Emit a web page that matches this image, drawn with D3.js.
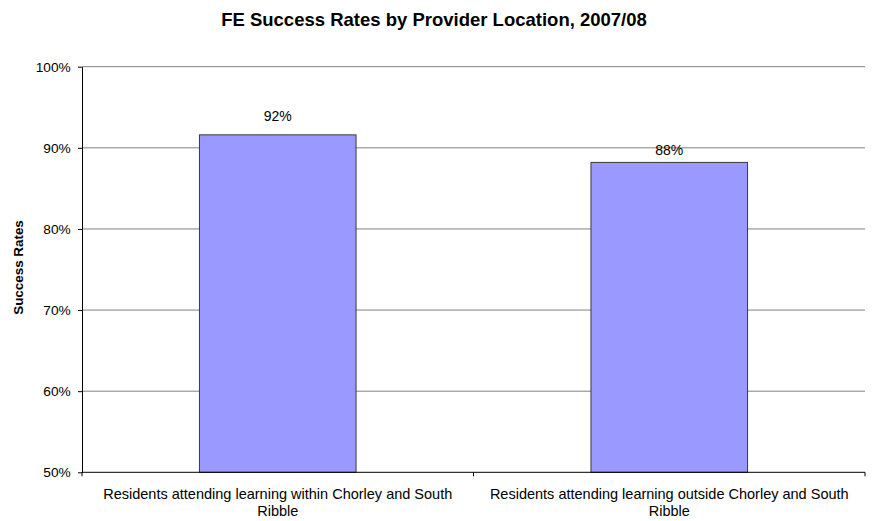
<!DOCTYPE html>
<html><head><meta charset="utf-8">
<script src="https://cdn.jsdelivr.net/npm/d3@7"></script>
<style>body{margin:0;background:#fff}svg{display:block;font-family:"Liberation Sans",Arial,sans-serif}</style>
</head><body><svg id="c" width="879" height="521"></svg>
<script>
const categories = [
  ["Residents attending learning within Chorley and South", "Ribble"],
  ["Residents attending learning outside Chorley and South", "Ribble"]
];
const values = [91.6, 88.2];
const valueLabels = ["92%", "88%"];
const yTicks = [50, 60, 70, 80, 90, 100];

const svg = d3.select("#c");
const m = {l: 82, r: 865, t: 66.7, b: 472.3};
const x = d3.scaleBand().domain(d3.range(categories.length)).range([m.l, m.r]).paddingInner(0).paddingOuter(0);
const y = d3.scaleLinear().domain([50, 100]).range([m.b, m.t]);

svg.append("text").attr("x", 434).attr("y", 26).attr("text-anchor", "middle")
  .attr("font-size", 18.5).attr("font-weight", "bold").text("FE Success Rates by Provider Location, 2007/08");

// gridlines
svg.append("g").selectAll("line").data(yTicks.filter(d => d > 50)).join("line")
  .attr("x1", m.l).attr("x2", m.r).attr("y1", d => y(d)).attr("y2", d => y(d))
  .attr("stroke", "#808080").attr("stroke-width", 1);

// bars
const bw = x.bandwidth() * 0.4;
svg.append("g").selectAll("rect").data(values).join("rect")
  .attr("x", (d, i) => x(i) + (x.bandwidth() - bw) / 2)
  .attr("y", d => y(d)).attr("width", bw).attr("height", d => y(50) - y(d))
  .attr("fill", "#9999FF").attr("stroke", "#3a3a3a").attr("stroke-width", 1);

const labelGap = [13.7, 7.7];
svg.append("g").selectAll("text").data(values).join("text")
  .attr("x", (d, i) => x(i) + x.bandwidth() / 2).attr("y", (d, i) => y(d) - labelGap[i])
  .attr("text-anchor", "middle").attr("font-size", 14).attr("fill", "#000")
  .text((d, i) => valueLabels[i]);

// y axis
const ya = svg.append("g").attr("transform", `translate(${m.l},0)`)
  .call(d3.axisLeft(y).tickValues(yTicks).tickSize(4).tickPadding(7.3).tickSizeOuter(0).tickFormat(d => d + "%"));
ya.select(".domain").attr("stroke", "#000");
ya.selectAll("line").attr("stroke", "#000");
ya.selectAll("text").attr("font-size", 13.7).attr("font-family", "Liberation Sans, Arial, sans-serif").attr("fill", "#000");

// x axis
svg.append("line").attr("x1", m.l).attr("x2", m.r).attr("y1", m.b).attr("y2", m.b).attr("stroke", "#000");
const xt = [m.l, x(1), m.r];
svg.append("g").selectAll("line").data(xt).join("line")
  .attr("x1", d => d).attr("x2", d => d).attr("y1", m.b).attr("y2", m.b + 4).attr("stroke", "#000");

const cl = svg.append("g").selectAll("text").data(categories).join("text")
  .attr("x", (d, i) => x(i) + x.bandwidth() / 2).attr("text-anchor", "middle")
  .attr("font-size", 14.5).attr("fill", "#000");
cl.each(function(d) {
  d.forEach((line, j) => d3.select(this).append("tspan")
    .attr("x", d3.select(this).attr("x")).attr("y", 499 + j * 16.5).text(line));
});

svg.append("text").attr("transform", "translate(22.5,267.5) rotate(-90)").attr("text-anchor", "middle")
  .attr("font-size", 13.4).attr("font-weight", "bold").text("Success Rates");
</script></body></html>
